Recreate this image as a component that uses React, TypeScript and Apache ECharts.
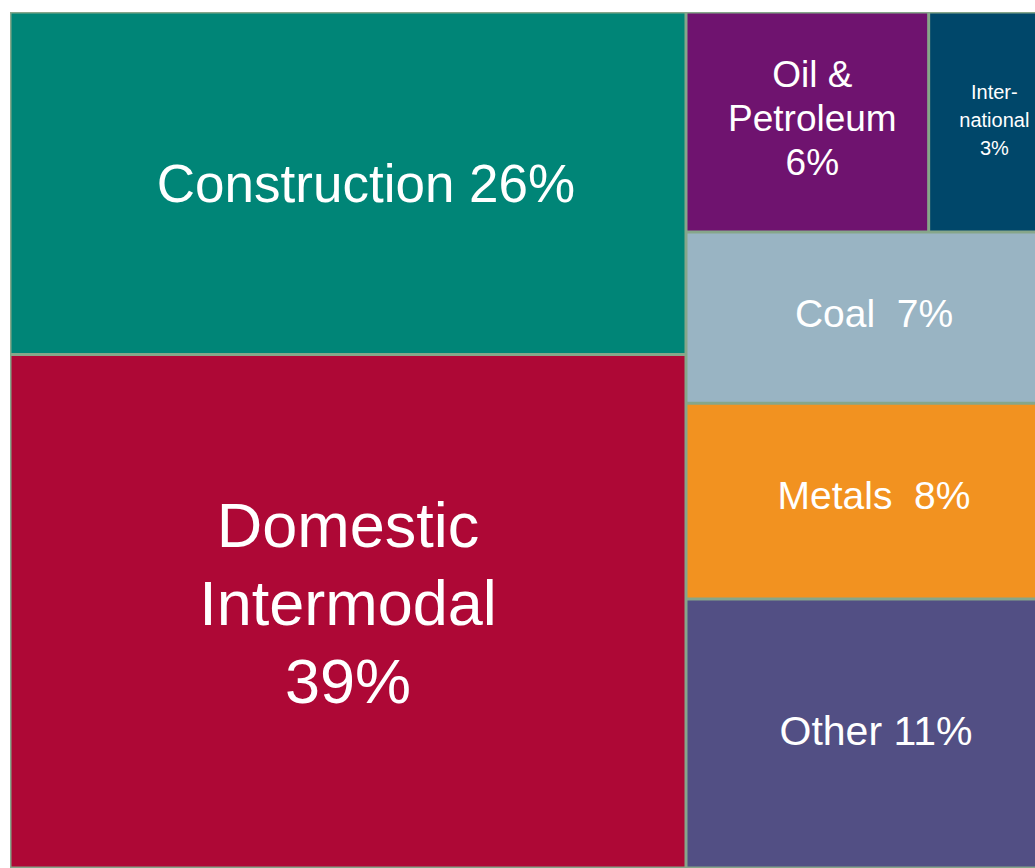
import React, { useEffect, useRef } from "react";
import * as echarts from "echarts";

// Freight revenue mix (percent)
const leftNames = ["Construction", "Domestic Intermodal"];
const leftValues = [26, 39];
const leftLabels = ["Construction 26%", "Domestic\nIntermodal\n39%"];
const leftColors = ["#008577", "#AE0836"];

const topNames = ["Oil & Petroleum", "International"];
const topValues = [6, 3];
const topLabels = ["Oil &\nPetroleum\n6%", "Inter-\nnational\n3%"];
const topColors = ["#6F136F", "#00476A"];

const restNames = ["Coal", "Metals", "Other"];
const restValues = [7, 8, 11];
const restLabels = ["Coal  7%", "Metals  8%", "Other 11%"];
const restColors = ["#99B4C3", "#F29220", "#524F84"];

const BORDER = "#86a68a";

const leafStyle = (
  name: string,
  value: number,
  text: string,
  color: string,
  fontSize: number,
  lineHeight: number,
  offset: number[]
) => ({
  name,
  value,
  itemStyle: { color, borderColor: BORDER, borderWidth: 1.5 },
  label: {
    show: true,
    position: "inside",
    formatter: text,
    color: "#ffffff",
    fontFamily: "Liberation Sans, Arial, sans-serif",
    fontSize,
    lineHeight,
    align: "center",
    verticalAlign: "middle",
    overflow: "none",
    offset,
  },
});

const groupStyle = { borderWidth: 0, gapWidth: 0, borderColor: BORDER };

export default function App() {
  const ref = useRef<HTMLDivElement>(null);
  useEffect(() => {
    if (!ref.current) return;
    const chart = echarts.init(ref.current, undefined, { renderer: "svg" });
    const leftFont = [53, 63];
    const leftLH = [60, 78];
    const leftOff = [[18, 0], [0, -8]];
    const topFont = [37, 20];
    const topLH = [44, 28];
    const topOff = [[5, -4], [5, -2]];
    const restFont = [39, 39, 41];
    const restOff = [[6, -4], [6, -6], [8, -2]];
    const data = [
      {
        name: "Left",
        value: leftValues.reduce((a, b) => a + b, 0),
        itemStyle: groupStyle,
        children: leftNames.map((n, i) =>
          leafStyle(n, leftValues[i], leftLabels[i], leftColors[i], leftFont[i], leftLH[i], leftOff[i])
        ),
      },
      {
        name: "Right",
        value:
          topValues.reduce((a, b) => a + b, 0) + restValues.reduce((a, b) => a + b, 0),
        itemStyle: groupStyle,
        children: [
          {
            name: "Top",
            value: topValues.reduce((a, b) => a + b, 0),
            itemStyle: groupStyle,
            children: topNames.map((n, i) =>
              leafStyle(n, topValues[i], topLabels[i], topColors[i], topFont[i], topLH[i], topOff[i])
            ),
          },
          ...restNames.map((n, i) =>
            leafStyle(n, restValues[i], restLabels[i], restColors[i], restFont[i], 48, restOff[i])
          ),
        ],
      },
    ];
    chart.setOption({
      animation: false,
      backgroundColor: "#ffffff",
      series: [
        {
          type: "treemap",
          left: 10,
          top: 12,
          width: 1040,
          height: 856,
          sort: false,
          squareRatio: 1,
          roam: false,
          nodeClick: false,
          breadcrumb: { show: false },
          visibleMin: 0,
          itemStyle: groupStyle,
          upperLabel: { show: false },
          levels: [
            { itemStyle: groupStyle },
            { itemStyle: groupStyle },
            { itemStyle: groupStyle },
          ],
          data,
        },
      ],
    });
    return () => chart.dispose();
  }, []);
  return (
    <div
      style={{
        position: "fixed",
        left: 0,
        top: 0,
        width: 1035,
        height: 868,
        overflow: "hidden",
        background: "#ffffff",
      }}
    >
      <div ref={ref} style={{ width: 1050, height: 868 }} />
    </div>
  );
}
